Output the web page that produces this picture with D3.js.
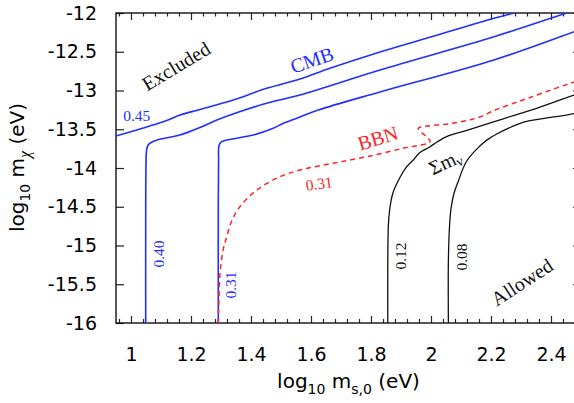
<!DOCTYPE html>
<head>
  <meta charset="utf-8">
  <script src="https://d3js.org/d3.v7.min.js"></script>
  <style>
    body { margin: 0; background: #fff; }
    .axis text { font-family: "DejaVu Sans", sans-serif; font-size: 19px; fill: #000; }
    .axis line { stroke: #222; stroke-width: 1.2; }
    .axis path { display: none; }
    .title { font-family: "DejaVu Sans", sans-serif; font-size: 20px; fill: #000; }
    .note { font-family: "Liberation Serif", "Times New Roman", serif; }
  </style>
</head>
<body>
<script>
  // axis ticks
  var xMajor = [1, 1.2, 1.4, 1.6, 1.8, 2, 2.2, 2.4];
  var yMajor = [-16, -15.5, -15, -14.5, -14, -13.5, -13, -12.5, -12];

  // contours, [log10 ms,0 , log10 m_chi]
  var cmb045 = [[0.95,-13.587],[1.063,-13.458],[1.119,-13.387],[1.163,-13.316],[1.23,-13.245],[1.341,-13.123],
    [1.452,-12.972],[1.563,-12.852],[1.663,-12.714],[1.83,-12.503],[2.01,-12.297],[2.21,-12.068],[2.277,-12.0],[2.33,-11.935]];
  var cmb040 = [[1.049,-16],[1.049,-14.7],[1.05,-13.96],[1.052,-13.77],[1.057,-13.703],[1.067,-13.671],[1.087,-13.639],
    [1.163,-13.574],[1.23,-13.477],[1.286,-13.381],[1.34,-13.303],[1.452,-13.165],[1.563,-13.058],[1.83,-12.735],
    [2.21,-12.306],[2.449,-12.004],[2.497,-11.942]];
  var cmb031 = [[1.291,-16],[1.291,-14.4],[1.292,-13.9],[1.293,-13.716],[1.3,-13.665],[1.319,-13.639],[1.408,-13.574],
    [1.474,-13.488],[1.508,-13.423],[1.563,-13.342],[1.624,-13.252],[1.83,-13.019],[2.21,-12.606],[2.477,-12.241],[2.5,-12.209]];
  var bbn031 = [[1.291,-16],[1.293,-15.703],[1.297,-15.355],[1.307,-15.058],[1.319,-14.886],[1.337,-14.671],[1.363,-14.499],
    [1.419,-14.284],[1.497,-14.112],[1.563,-14.026],[1.673,-13.939],[1.786,-13.854],[1.907,-13.746],[1.997,-13.661],
    [1.99,-13.613],[1.963,-13.523],[1.957,-13.49],[1.967,-13.471],[2.073,-13.423],[2.163,-13.342],[2.21,-13.258],
    [2.33,-13.09],[2.477,-12.89],[2.5,-12.862]];
  var sum012 = [[1.856,-16],[1.856,-15.187],[1.858,-14.735],[1.863,-14.516],[1.873,-14.323],[1.887,-14.194],[1.919,-13.983],
    [1.941,-13.897],[1.963,-13.8],[1.997,-13.725],[2.02,-13.665],[2.052,-13.596],[2.13,-13.503],[2.241,-13.365],
    [2.352,-13.23],[2.477,-13.058],[2.5,-13.03]];
  var sum008 = [[2.058,-16],[2.058,-15.187],[2.062,-14.735],[2.067,-14.516],[2.077,-14.323],[2.09,-14.181],[2.119,-13.91],
    [2.163,-13.716],[2.186,-13.64],[2.219,-13.561],[2.297,-13.425],[2.33,-13.39],[2.477,-13.297],[2.5,-13.27]];

  var curves = [
    {pts: cmb045, color: "#1f2fff", dash: null, w: 1.6},
    {pts: cmb040, color: "#1f2fff", dash: null, w: 1.6},
    {pts: cmb031, color: "#1f2fff", dash: null, w: 1.6},
    {pts: sum012, color: "#111", dash: null, w: 1.3},
    {pts: sum008, color: "#111", dash: null, w: 1.3},
    {pts: bbn031, color: "#f22", dash: "5,4", w: 1.5}
  ];

  // labels: text, x, y, rotation, size, colour
  var notes = [
    ["Excluded", 1.15, -12.684, -31, 20, "#111"],
    ["CMB", 1.603, -12.606, -19, 20, "#1f2fff"],
    ["0.45", 1.019, -13.329, 0, 15.5, "#1f2fff"],
    ["0.40", 1.093, -15.11, -90, 15.5, "#1f2fff"],
    ["0.31", 1.333, -15.51, -90, 15.5, "#1f2fff"],
    ["BBN", 1.823, -13.613, -17, 20, "#f22"],
    ["0.31", 1.627, -14.2, -8, 15.5, "#f22"],
    ["0.12", 1.897, -15.135, -90, 15.5, "#111"],
    ["0.08", 2.102, -15.148, -90, 15.5, "#111"],
    ["Allowed", 2.303, -15.471, -33, 20, "#111"]
  ];

  var W = 574, H = 403;
  var pLeft = 116, pTop = 13, pRight = 581, pBottom = 323;

  var x = d3.scaleLinear().domain([0.95, 2.5]).range([pLeft, pRight]);
  var y = d3.scaleLinear().domain([-16, -12]).range([pBottom, pTop]);

  var svg = d3.select("body").append("svg")
      .attr("width", W)
      .attr("height", H);

  svg.append("defs").append("clipPath").attr("id", "plot")
    .append("rect").attr("x", pLeft).attr("y", pTop)
      .attr("width", pRight - pLeft).attr("height", pBottom - pTop);

  var xMinor = d3.range(0.96, 2.5, 0.04).filter(function(v) {
    return xMajor.every(function(m) { return Math.abs(m - v) > 0.001; });
  });

  // bottom ticks + labels
  svg.append("g").attr("class", "axis")
      .attr("transform", "translate(0," + pBottom + ")")
      .call(d3.axisBottom(x).tickValues(xMajor).tickSize(-7).tickPadding(24.5)
        .tickFormat(function(d) { return String(d); }));
  svg.append("g").attr("class", "axis")
      .attr("transform", "translate(0," + pBottom + ")")
      .call(d3.axisBottom(x).tickValues(xMinor).tickSize(-4).tickFormat(""));
  // top ticks
  svg.append("g").attr("class", "axis")
      .attr("transform", "translate(0," + pTop + ")")
      .call(d3.axisTop(x).tickValues(xMajor).tickSize(-7).tickFormat(""));
  svg.append("g").attr("class", "axis")
      .attr("transform", "translate(0," + pTop + ")")
      .call(d3.axisTop(x).tickValues(xMinor).tickSize(-3.5).tickFormat(""));
  // left ticks + labels
  svg.append("g").attr("class", "axis")
      .attr("transform", "translate(" + pLeft + ",0)")
      .call(d3.axisLeft(y).tickValues(yMajor).tickSize(-8).tickPadding(19)
        .tickFormat(function(d) { return String(d); }));
  // right ticks
  svg.append("g").attr("class", "axis")
      .attr("transform", "translate(" + pRight + ",0)")
      .call(d3.axisRight(y).tickValues(yMajor).tickSize(-8).tickFormat(""));

  // frame
  svg.append("rect")
      .attr("x", pLeft).attr("y", pTop)
      .attr("width", pRight - pLeft).attr("height", pBottom - pTop)
      .attr("fill", "none").attr("stroke", "#111").attr("stroke-width", 1.4);

  var line = d3.line()
      .x(function(d) { return x(d[0]); })
      .y(function(d) { return y(d[1]); })
      .curve(d3.curveCatmullRom.alpha(0.5));

  svg.append("g").attr("clip-path", "url(#plot)")
    .selectAll("path").data(curves).enter().append("path")
      .attr("d", function(d) { return line(d.pts); })
      .attr("fill", "none")
      .attr("stroke", function(d) { return d.color; })
      .attr("stroke-width", function(d) { return d.w; })
      .attr("stroke-dasharray", function(d) { return d.dash; });

  svg.selectAll(".note").data(notes).enter().append("text")
      .attr("class", "note")
      .attr("text-anchor", "middle")
      .attr("dominant-baseline", "central")
      .attr("transform", function(d) { return "translate(" + x(d[1]) + "," + y(d[2]) + ") rotate(" + d[3] + ")"; })
      .attr("font-size", function(d) { return d[4] + "px"; })
      .attr("fill", function(d) { return d[5]; })
      .text(function(d) { return d[0]; });

  // sum of neutrino masses label
  var sig = svg.append("text").attr("class", "note")
      .attr("text-anchor", "middle")
      .attr("dominant-baseline", "central")
      .attr("font-size", "20px").attr("fill", "#111")
      .attr("transform", "translate(" + x(2.047) + "," + y(-13.923) + ") rotate(-25)");
  sig.append("tspan").text("\u03A3m");
  sig.append("tspan").attr("dy", 5).attr("font-size", "14px").text("\u03BD");

  // axis titles
  var xt = svg.append("text").attr("class", "title")
      .attr("text-anchor", "middle")
      .attr("x", 348.5).attr("y", 388);
  xt.append("tspan").text("log");
  xt.append("tspan").attr("dy", 6).attr("font-size", "14px").text("10");
  xt.append("tspan").attr("dy", -6).text(" m");
  xt.append("tspan").attr("dy", 6).attr("font-size", "14px").text("s,0");
  xt.append("tspan").attr("dy", -6).text(" (eV)");

  var yt = svg.append("text").attr("class", "title")
      .attr("text-anchor", "middle")
      .attr("transform", "translate(24,167.5) rotate(-90)");
  yt.append("tspan").text("log");
  yt.append("tspan").attr("dy", 6).attr("font-size", "14px").text("10");
  yt.append("tspan").attr("dy", -6).text(" m");
  yt.append("tspan").attr("dy", 6).attr("font-size", "16px")
      .style("font-family", "Liberation Serif, serif").style("font-style", "italic").text("\u03C7");
  yt.append("tspan").attr("dy", -6).text(" (eV)");
</script>
</body>
